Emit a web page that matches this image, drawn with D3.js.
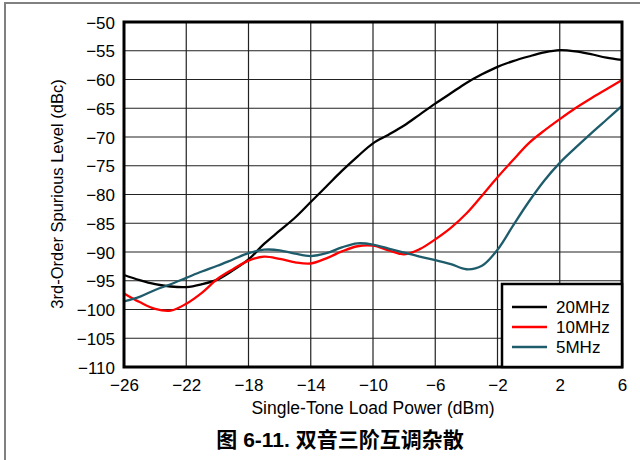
<!DOCTYPE html>
<html>
<head>
<meta charset="utf-8">
<script src="https://cdn.jsdelivr.net/npm/d3@7"></script>
<style>
  body { margin: 0; background: #fff; }
  text { font-family: "Liberation Sans", Arial, sans-serif; fill: #000; }
</style>
</head>
<body>
<svg id="chart" width="640" height="460"></svg>
<script>
// power axis values (dBm)
const power = [-26, -25, -24, -23, -22, -21, -20, -19, -18, -17, -16, -15, -14, -13, -12, -11, -10,
               -9, -8, -7, -6, -5, -4, -3, -2, -1, 0, 1, 2, 3, 4, 5, 6];

const spur20 = [-94.0, -94.9, -95.6, -96.0, -96.1, -95.6, -94.8, -93.2, -91.3, -88.6, -86.3, -84.0, -81.3,
                -78.6, -75.9, -73.4, -71.1, -69.6, -68.0, -66.1, -64.2, -62.4, -60.6, -59.1, -57.8, -56.8,
                -56.0, -55.3, -54.9, -55.1, -55.6, -56.2, -56.6];
const spur10 = [-97.2, -98.7, -99.9, -100.2, -99.0, -97.1, -94.7, -93.0, -91.5, -90.8, -91.2, -91.8, -92.0,
                -91.1, -89.9, -89.0, -88.9, -89.7, -90.4, -89.5, -87.8, -85.8, -83.3, -80.2, -77.0, -74.0,
                -71.1, -68.9, -66.9, -65.0, -63.3, -61.7, -60.1];
const spur5 = [-98.6, -97.8, -96.6, -95.6, -94.5, -93.4, -92.4, -91.3, -90.2, -89.6, -89.7, -90.3, -90.7,
               -90.2, -89.2, -88.5, -88.7, -89.4, -90.1, -90.8, -91.4, -92.1, -93.0, -92.4, -89.6, -85.4,
               -81.3, -77.6, -74.5, -71.9, -69.4, -67.0, -64.6];

const seriesNames = ["20MHz", "10MHz", "5MHz"];
const seriesColors = ["#000000", "#ff0000", "#1f5c6b"];
const seriesValues = [spur20, spur10, spur5];

const xTicks = [-26, -22, -18, -14, -10, -6, -2, 2, 6];
const yTicks = [-50, -55, -60, -65, -70, -75, -80, -85, -90, -95, -100, -105, -110];

const svg = d3.select("#chart");
const margin = {top: 22, right: 18, bottom: 93, left: 124};
const innerWidth = 640 - margin.left - margin.right;
const innerHeight = 460 - margin.top - margin.bottom;

// page frame
svg.append("path")
    .attr("d", "M5,460 L5,3 L640,3")
    .attr("fill", "none")
    .attr("stroke", "#808080")
    .attr("stroke-width", 2);

const chart = svg.append("g")
    .attr("transform", "translate(" + margin.left + "," + margin.top + ")");

const x = d3.scaleLinear().domain([-26, 6]).range([0, innerWidth]);
const y = d3.scaleLinear().domain([-110, -50]).range([innerHeight, 0]);

// grid
chart.append("g")
    .selectAll("line")
    .data(xTicks)
    .enter()
    .append("line")
    .attr("x1", d => x(d)).attr("x2", d => x(d))
    .attr("y1", 0).attr("y2", innerHeight)
    .attr("stroke", "#222").attr("stroke-width", 1.2);

chart.append("g")
    .selectAll("line")
    .data(yTicks)
    .enter()
    .append("line")
    .attr("x1", 0).attr("x2", innerWidth)
    .attr("y1", d => y(d)).attr("y2", d => y(d))
    .attr("stroke", "#222").attr("stroke-width", 1.2);

// axes
const xAxis = chart.append("g")
    .attr("transform", "translate(0," + innerHeight + ")")
    .call(d3.axisBottom(x).tickValues(xTicks).tickSize(0).tickPadding(12));
const yAxis = chart.append("g")
    .call(d3.axisLeft(y).tickValues(yTicks).tickSize(0).tickPadding(9));
[xAxis, yAxis].forEach(a => {
    a.select(".domain").remove();
    a.selectAll("text")
        .attr("font-family", "Liberation Sans, Arial, sans-serif")
        .attr("font-size", 17)
        .attr("fill", "#000");
});
yAxis.selectAll("text").attr("dy", "0.36em");

// curves
const line = d3.line()
    .x((d, i) => x(power[i]))
    .y(d => y(d))
    .curve(d3.curveCatmullRom.alpha(0.5));

chart.append("g")
    .selectAll("path")
    .data(seriesValues)
    .enter()
    .append("path")
    .attr("d", d => line(d))
    .attr("fill", "none")
    .attr("stroke", (d, i) => seriesColors[i])
    .attr("stroke-width", 2.3);

// plot border
chart.append("rect")
    .attr("width", innerWidth)
    .attr("height", innerHeight)
    .attr("fill", "none")
    .attr("stroke", "#000")
    .attr("stroke-width", 3);

// legend
const legend = chart.append("g")
    .attr("transform", "translate(" + (innerWidth - 120) + "," + (innerHeight - 83) + ")");
legend.append("rect")
    .attr("width", 120)
    .attr("height", 83)
    .attr("fill", "#fff")
    .attr("stroke", "#000")
    .attr("stroke-width", 2.5);
seriesNames.forEach((name, i) => {
    const row = legend.append("g").attr("transform", "translate(0," + (23 + i * 20) + ")");
    row.append("line")
        .attr("x1", 10).attr("x2", 45)
        .attr("stroke", seriesColors[i]).attr("stroke-width", 2.5);
    row.append("text")
        .attr("x", 54).attr("dy", "0.36em")
        .attr("font-size", 17)
        .text(name);
});

// axis titles
svg.append("text")
    .attr("x", margin.left + innerWidth / 2)
    .attr("y", 414)
    .attr("text-anchor", "middle")
    .attr("font-size", 17.5)
    .text("Single-Tone Load Power (dBm)");

svg.append("text")
    .attr("transform", "translate(63,194) rotate(-90)")
    .attr("text-anchor", "middle")
    .attr("font-size", 16.5)
    .text("3rd-Order Spurious Level (dBc)");

svg.append("text")
    .attr("x", 340)
    .attr("y", 447)
    .attr("text-anchor", "middle")
    .attr("font-size", 21)
    .attr("font-weight", "bold")
    .style("font-family", "'Liberation Sans', 'Noto Sans CJK SC', sans-serif")
    .text("图 6-11. 双音三阶互调杂散");
</script>
</body>
</html>
